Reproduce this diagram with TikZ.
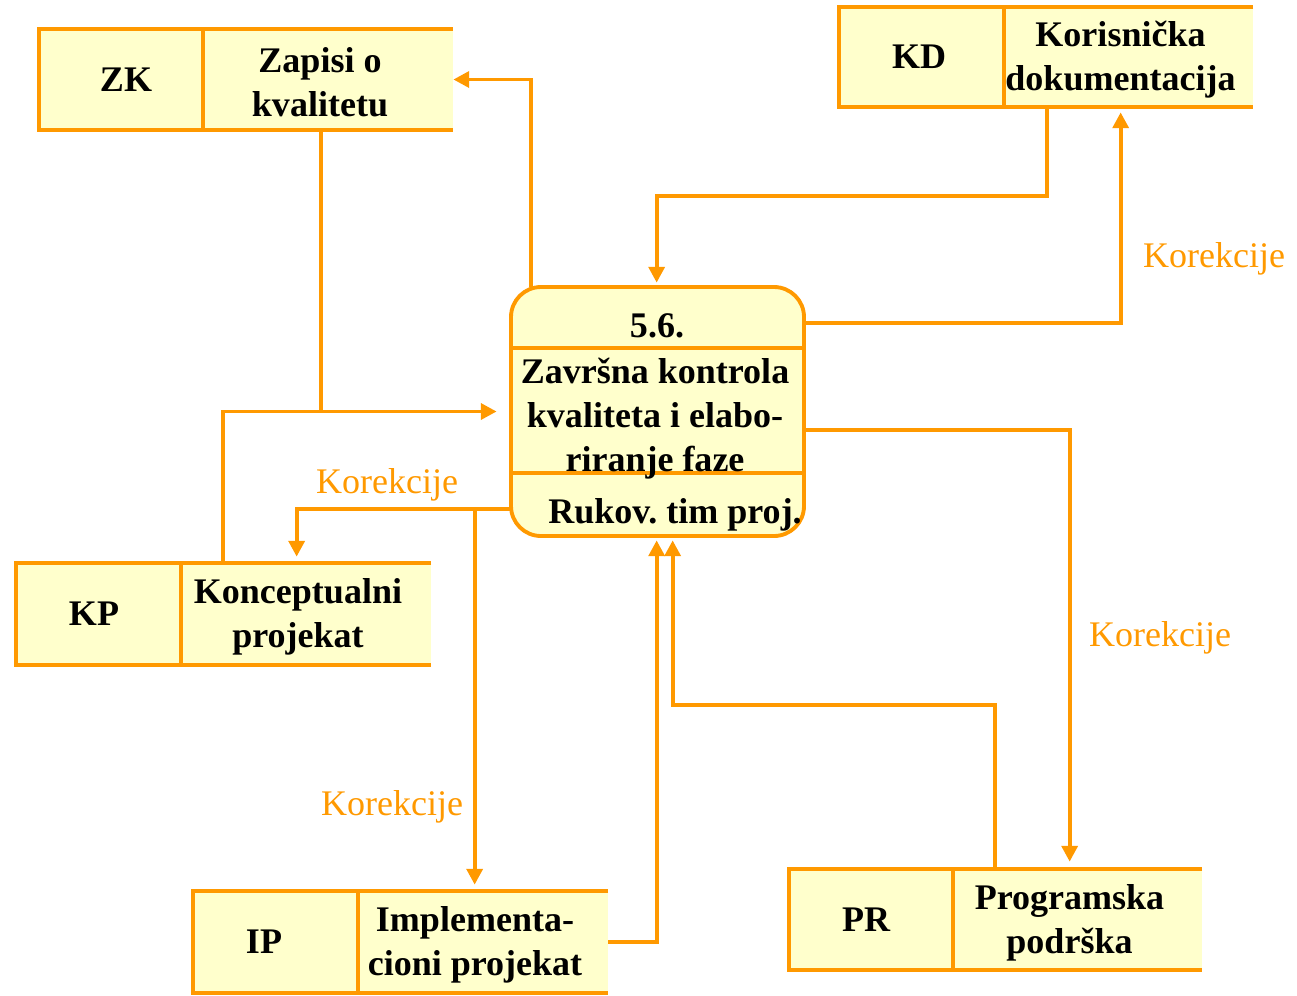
\documentclass[tikz,border=0pt]{standalone}
\usepackage{fontspec}
\setmainfont{Liberation Serif}
\frenchspacing
\usetikzlibrary{fit,arrows.meta,calc}
\definecolor{org}{HTML}{FF9900}
\definecolor{pale}{HTML}{FFFFCC}
\tikzset{
  conn/.style={draw=org, line width=2.2pt},
  arr/.style={conn, -{Triangle[length=9pt,width=9pt]}},
  lbl/.style={text=org, inner sep=0, font=\fontsize{20.5}{25}\selectfont},
  txt/.style={font=\bfseries\fontsize{20.5}{25}\selectfont, align=center, inner sep=0},
}
\newcommand\datastore[9]{%
  \fill[pale] (#2,#3) rectangle (#4,#5);
  \node[inner sep=0, fit={(#2,#3)(#4,#5)}] (#1) {};
  \draw[conn] (#4,#3) -| (#2,#5) -- (#4,#5);
  \draw[conn] (#6,#3) -- (#6,#5);
  \node[txt] (#1-id) at (#9,{(#3+#5)/2}) {#7};
  \node[txt] (#1-tx) at ({(#6+#4)/2-8},{(#3+#5)/2+3}) {#8};
}
\begin{document}
\begin{tikzpicture}[x=0.02cm, y=-0.02cm]
\useasboundingbox (0,0) rectangle (1297,995);

% data stores
\datastore{zk}{39}{29}{453}{130}{203}{ZK}{Zapisi o\\kvalitetu}{126}
\datastore{kd}{839}{7}{1253}{107}{1004}{KD}{Korisnička\\dokumentacija}{919}
\datastore{kp}{16}{563}{431}{665}{181}{KP}{Konceptualni\\projekat}{94}
\datastore{ip}{193}{891}{608}{993}{358}{IP}{Implementa-\\cioni projekat}{264}
\datastore{pr}{789}{869}{1202}{970}{953}{PR}{Programska\\podrška}{866}

% process
\draw[conn, fill=pale, rounded corners=0.6cm] (511,287) rectangle (804,536);
\node[inner sep=0, fit={(511,287)(804,536)}] (proc) {};
\draw[conn] (511,348) -- (804,348);
\draw[conn] (511,473) -- (804,473);
\node[txt] (pnum) at (657,326) {5.6.};
\node[txt] (pname) at (655,419) {Završna kontrola\\kvaliteta i elabo-\\riranje faze};
\node[txt] (pwho) at (675,515) {Rukov. tim proj.};

% connectors
\draw[arr] ($(proc.north west)+(20,0)$) |- (zk.east);

\coordinate (zkb) at ($(zk.south west)+(282,0)$);
\draw[conn] (zkb) -- (zkb |- proc.west);
\draw[arr] ($(kp.north west)+(207,0)$) |- ([xshift=-0.28cm]proc.west);

\coordinate (pl) at ($(proc.south west)+(0,-27)$);
\draw[arr] (pl) -| ($(kp.north west)+(281,-6)$);
\coordinate (ipt) at ($(ip.north west)+(282,-6)$);
\draw[arr] (ipt |- pl) -- (ipt);

\draw[arr] (ip.east) -| ($(proc.south west)+(146,4)$);
\draw[arr] ($(pr.north west)+(206,0)$) -- ++(0,-164) -| ($(proc.south west)+(162,4)$);

\draw[arr] ($(proc.south east)+(0,-106)$) -| ($(pr.north west)+(281,-7)$);
\draw[arr] ($(proc.north east)+(0,36)$) -| ($(kd.south west)+(282,5)$);
\draw[arr] ($(kd.south west)+(208,0)$) -- ++(0,89) -| ($(proc.north west)+(146,-4)$);

% labels
\node[lbl] (l1) at (387,485) {Korekcije};
\node[lbl] (l2) at (392,807) {Korekcije};
\node[lbl] (l3) at (1160,638) {Korekcije};
\node[lbl] (l4) at (1214,259) {Korekcije};
\end{tikzpicture}
\end{document}
